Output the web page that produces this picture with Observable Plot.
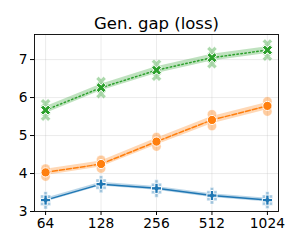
<!DOCTYPE html>
<html><head><meta charset="utf-8">
<script src="https://cdn.jsdelivr.net/npm/d3@7"></script>
<script src="https://cdn.jsdelivr.net/npm/@observablehq/plot@0.6"></script>
<style>body{margin:0;background:#fff;font-family:"DejaVu Sans",sans-serif}</style>
</head><body><div id="chart"></div>
<script>
const title = "Gen. gap (loss)";
const sizes = [64, 128, 256, 512, 1024];
const seriesNames = ["blue", "orange", "green"];
const blueMean = [3.30, 3.72, 3.61, 3.42, 3.30];
const blueLo = [3.25, 3.67, 3.56, 3.37, 3.25];
const blueHi = [3.35, 3.77, 3.66, 3.47, 3.35];
const blueHaloLo = [3.20, 3.63, 3.51, 3.33, 3.21];
const blueHaloHi = [3.39, 3.81, 3.70, 3.50, 3.39];
const orangeMean = [4.03, 4.25, 4.84, 5.41, 5.78];
const orangeLo = [3.95, 4.17, 4.75, 5.31, 5.68];
const orangeHi = [4.11, 4.33, 4.93, 5.50, 5.87];
const orangeHaloLo = [3.92, 4.13, 4.71, 5.25, 5.63];
const orangeHaloHi = [4.13, 4.36, 4.96, 5.56, 5.90];
const greenMean = [5.67, 6.26, 6.72, 7.05, 7.25];
const greenLo = [5.58, 6.18, 6.63, 6.96, 7.16];
const greenHi = [5.76, 6.35, 6.81, 7.14, 7.34];
const greenHaloLo = [5.51, 6.10, 6.56, 6.89, 7.09];
const greenHaloHi = [5.84, 6.42, 6.88, 7.21, 7.41];
const yTicks = [3, 4, 5, 6, 7];

const colors = {blue: "#1f77b4", orange: "#ff7f0e", green: "#2ca02c"};
const dashes = {blue: null, orange: "5,2", green: "1.5,2.5"};

const plusFilled = {draw(ctx, size) {
  const r = Math.sqrt(size / Math.PI) * 1.1, w = r / 3;
  ctx.moveTo(-w, -r); ctx.lineTo(w, -r); ctx.lineTo(w, -w); ctx.lineTo(r, -w);
  ctx.lineTo(r, w); ctx.lineTo(w, w); ctx.lineTo(w, r); ctx.lineTo(-w, r);
  ctx.lineTo(-w, w); ctx.lineTo(-r, w); ctx.lineTo(-r, -w); ctx.lineTo(-w, -w); ctx.closePath();
}};
const xFilled = {draw(ctx, size) {
  const r = Math.sqrt(size / Math.PI) * 1.15, w = r / 3;
  const pts = [[-w,-r],[w,-r],[w,-w],[r,-w],[r,w],[w,w],[w,r],[-w,r],[-w,w],[-r,w],[-r,-w],[-w,-w]];
  const c = Math.SQRT1_2;
  pts.forEach(([x, y], i) => {
    const X = (x - y) * c, Y = (x + y) * c;
    i ? ctx.lineTo(X, Y) : ctx.moveTo(X, Y);
  });
  ctx.closePath();
}};
const symbols = {blue: plusFilled, orange: "circle", green: xFilled};

const src = {
  blue: [blueMean, blueLo, blueHi, blueHaloLo, blueHaloHi],
  orange: [orangeMean, orangeLo, orangeHi, orangeHaloLo, orangeHaloHi],
  green: [greenMean, greenLo, greenHi, greenHaloLo, greenHaloHi]
};
const rows = seriesNames.flatMap(s => sizes.map((x, i) => ({
  s, x, mean: src[s][0][i], lo: src[s][1][i], hi: src[s][2][i], hlo: src[s][3][i], hhi: src[s][4][i]
})));

const marks = [
  Plot.gridX(sizes, {stroke: "#b0b0b0", strokeOpacity: 0.3, strokeWidth: 0.8}),
  Plot.gridY(yTicks, {stroke: "#b0b0b0", strokeOpacity: 0.3, strokeWidth: 0.8})
];
for (const s of seriesNames) {
  const d = rows.filter(r => r.s === s);
  marks.push(
    Plot.areaY(d, {x: "x", y1: "lo", y2: "hi", fill: colors[s], fillOpacity: 0.3}),
    Plot.dot(d, {x: "x", y: "hlo", r: 4.6, symbol: () => symbols[s], fill: colors[s], fillOpacity: 0.4, stroke: "white", strokeOpacity: 0.4, strokeWidth: 1}),
    Plot.dot(d, {x: "x", y: "hhi", r: 4.6, symbol: () => symbols[s], fill: colors[s], fillOpacity: 0.4, stroke: "white", strokeOpacity: 0.4, strokeWidth: 1}),
    Plot.line(d, {x: "x", y: "mean", stroke: colors[s], strokeWidth: 1.5, strokeDasharray: dashes[s]}),
    Plot.dot(d, {x: "x", y: "mean", r: 4.6, symbol: () => symbols[s], fill: colors[s], stroke: "white", strokeWidth: 1})
  );
}
marks.push(
  Plot.frame({stroke: "#000", strokeWidth: 0.9}),
  Plot.axisX(sizes, {tickSize: 4, tickPadding: 3, tickFormat: d => String(d), fontSize: 13.8, label: null}),
  Plot.axisY(yTicks, {tickSize: 4, tickPadding: 3, fontSize: 13.8, label: null}),
  Plot.text([title], {frameAnchor: "top", lineAnchor: "bottom", dy: -6, fontSize: 16.5, fill: "#000"})
);

const chart = Plot.plot({
  width: 300, height: 250,
  marginLeft: 34, marginRight: 22, marginTop: 34, marginBottom: 39,
  style: {fontFamily: "DejaVu Sans", fontSize: "13.8px", color: "#000", background: "white"},
  x: {type: "log", base: 2, domain: [Math.pow(2, 5.8), Math.pow(2, 10.2)]},
  y: {domain: [3, 7.66]},
  symbol: {type: "identity"},
  marks
});
document.getElementById("chart").appendChild(chart);
</script></body></html>
